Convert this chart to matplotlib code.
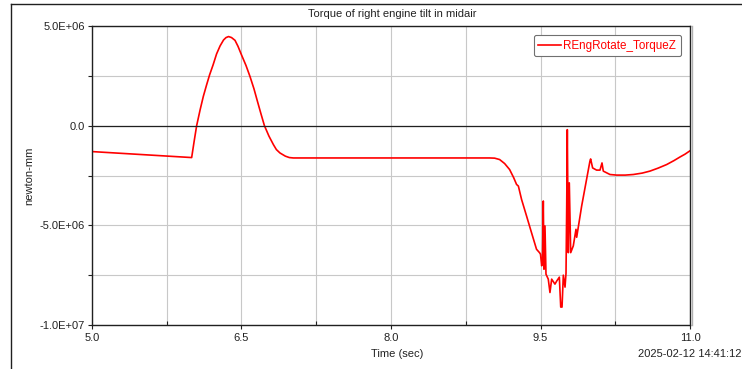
import matplotlib.pyplot as plt

# time (sec) and torque (newton-mm)
time_sec = [
    # slow drift before the tilt
    5.00, 5.50, 6.00,
    # first swing
    6.025, 6.05, 6.085, 6.117, 6.15, 6.18, 6.215, 6.25, 6.285, 6.32, 6.345,
    6.37, 6.40, 6.435, 6.465, 6.50, 6.545, 6.585, 6.625, 6.66, 6.695, 6.73,
    6.775, 6.82, 6.85, 6.886, 6.94, 6.98, 7.02,
    # hold
    8.99,
    # dip with spikes
    9.04, 9.09, 9.14, 9.19, 9.23, 9.26, 9.278, 9.31, 9.36, 9.41, 9.46, 9.49,
    9.500, 9.512, 9.520, 9.528, 9.535, 9.545, 9.555, 9.578, 9.595, 9.612,
    9.645, 9.662, 9.689, 9.703, 9.716, 9.729, 9.746, 9.756, 9.763, 9.769,
    9.779, 9.789, 9.803, 9.829, 9.856, 9.863, 9.913, 9.996, 10.003, 10.023,
    10.063, 10.097, 10.117, 10.130,
    # recovery
    10.197, 10.264, 10.35, 10.431, 10.52, 10.598, 10.68, 10.766, 10.84,
    10.90, 10.95, 11.00,
]
torque = [
    -1.30e6, -1.45e6, -1.60e6,
    -0.78e6, 0.0, 0.80e6, 1.47e6, 2.05e6, 2.55e6, 3.05e6, 3.60e6, 4.00e6,
    4.30e6, 4.42e6, 4.47e6, 4.42e6, 4.28e6, 3.98e6, 3.55e6, 3.02e6, 2.47e6,
    1.85e6, 1.22e6, 0.60e6, 0.0, -0.52e6, -0.95e6, -1.20e6, -1.37e6,
    -1.53e6, -1.60e6, -1.62e6,
    -1.62e6,
    -1.63e6, -1.70e6, -1.90e6, -2.20e6, -2.60e6, -2.95e6, -3.03e6, -3.70e6,
    -4.53e6, -5.37e6, -6.20e6, -6.37e6, -6.45e6, -7.03e6, -6.80e6, -3.78e6,
    -7.20e6, -5.03e6, -7.45e6, -7.70e6, -8.37e6, -7.70e6, -7.95e6, -7.80e6,
    -7.60e6, -9.10e6, -9.10e6, -7.50e6, -8.10e6, -7.40e6, -4.00e6, -0.20e6,
    -6.37e6, -2.87e6, -6.37e6, -6.03e6, -5.20e6, -5.60e6, -4.03e6, -1.78e6,
    -1.67e6, -2.12e6, -2.23e6, -2.23e6, -1.87e6, -2.28e6,
    -2.45e6, -2.48e6, -2.48e6, -2.45e6, -2.38e6, -2.28e6, -2.13e6, -1.95e6,
    -1.75e6, -1.57e6, -1.43e6, -1.26e6,
]

x_ticks = [5.0, 6.5, 8.0, 9.5, 11.0]
x_tick_labels = ["5.0", "6.5", "8.0", "9.5", "11.0"]
y_ticks = [-1.0e7, -5.0e6, 0.0, 5.0e6]
y_tick_labels = ["-1.0E+07", "-5.0E+06", "0.0", "5.0E+06"]

plt.rcParams["font.family"] = ["Liberation Sans", "DejaVu Sans"]
plt.rcParams["font.size"] = 8

fig = plt.figure(figsize=(7.42, 3.69), dpi=100)
ax = fig.add_axes([92 / 742, 44 / 369, 598 / 742, 299 / 369])

ax.plot(time_sec, torque, color="#ff0000", lw=1.2,
        label="REngRotate_TorqueZ")

ax.set_xlim(5.0, 11.0)
ax.set_ylim(-1.0e7, 5.0e6)

ax.set_xticks(x_ticks)
ax.set_xticklabels(x_tick_labels)
ax.set_xticks([5.75, 7.25, 8.75, 10.25], minor=True)
ax.set_yticks(y_ticks)
ax.set_yticklabels(y_tick_labels)
ax.set_yticks([-7.5e6, -2.5e6, 2.5e6], minor=True)

ax.grid(True, which="both", color="#c8c8c8", lw=0.8)
ax.axhline(0.0, color="#202020", lw=0.9)
ax.tick_params(axis="both", which="both", length=3, width=0.8,
               colors="#202020", labelcolor="#222222", labelsize=8)
ax.tick_params(axis="y", which="both", direction="out", pad=2)
ax.tick_params(axis="x", which="major", direction="out", pad=3)
ax.tick_params(axis="x", which="minor", direction="in")
for s in ax.spines.values():
    s.set_color("#202020")
    s.set_linewidth(1.0)

ax.set_xlabel("Time (sec)", color="#222222")
ax.xaxis.set_label_coords(0.51, -0.08)
ax.set_ylabel("newton-mm", color="#222222")
ax.yaxis.set_label_coords(-0.097, 0.5)

leg = ax.legend(loc="upper right", bbox_to_anchor=(0.985, 0.97),
                borderaxespad=0.0, fancybox=True, framealpha=1.0,
                handlelength=1.9, handletextpad=0.25, borderpad=0.4,
                fontsize=8.4)
leg.get_frame().set_edgecolor("#707070")
leg.get_frame().set_linewidth(0.8)
for txt in leg.get_texts():
    txt.set_color("#ff0000")

fig.text(392 / 742, 1 - 14 / 369, "Torque of right engine tilt in midair",
         ha="center", va="center", fontsize=8, color="#222222")
fig.text(741 / 742, 1 - 354 / 369, "2025-02-12 14:41:12",
         ha="right", va="center", fontsize=8, color="#222222")

# outer frame lines (top and left)
fig.add_artist(plt.Line2D([11 / 742, 1.0], [1 - 4 / 369, 1 - 4 / 369],
                          color="#202020", lw=1.0, transform=fig.transFigure))
fig.add_artist(plt.Line2D([11 / 742, 11 / 742], [0.0, 1 - 4 / 369],
                          color="#202020", lw=1.0, transform=fig.transFigure))
# faint shadow to the right of the plot area
fig.add_artist(plt.Line2D([692 / 742, 692 / 742], [44 / 369, 1 - 26 / 369],
                          color="#b0b0b0", lw=1.0, transform=fig.transFigure))

fig.savefig("out.png", dpi=100)
